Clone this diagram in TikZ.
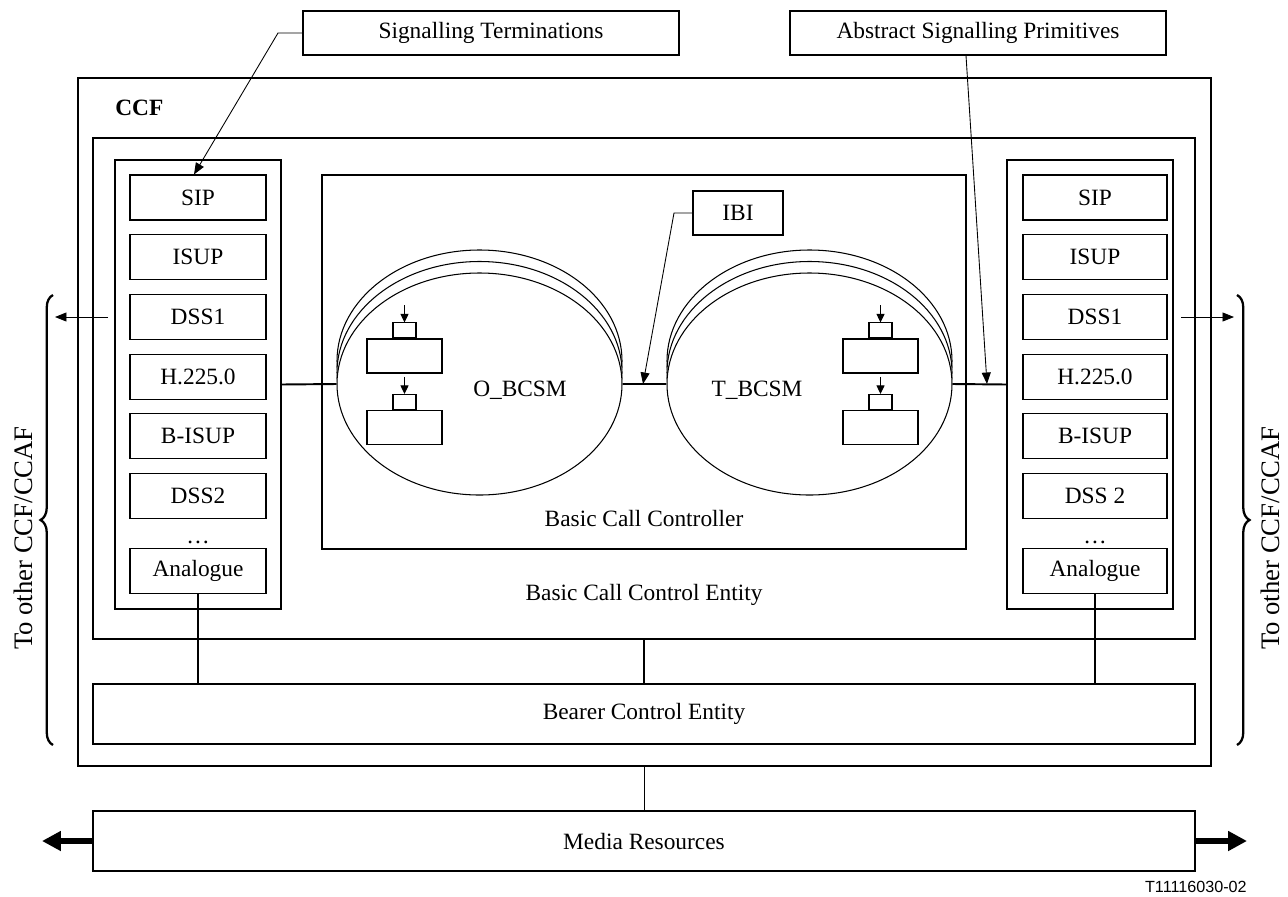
\documentclass[tikz,border=0pt]{standalone}
\usepackage{fontspec}
\setmainfont{Liberation Serif}
\newfontfamily\tagfont{Liberation Sans}
\usepackage{tikz}
\usetikzlibrary{shapes.geometric, arrows.meta, positioning, calc, decorations.pathreplacing}
\newcommand{\mainsize}{\fontsize{13.3}{15}\selectfont}
\newcommand{\sidesize}{\fontsize{15.2}{17}\selectfont}
\tikzset{
  boxframe/.style={rectangle, draw, inner sep=0pt, line width=0.6pt},
  dims/.style 2 args={minimum width=#1*0.02cm, minimum height=#2*0.02cm},
  protobox/.style={boxframe, dims={136}{45}, font=\mainsize},
  wideproto/.style={boxframe, dims={144}{45}, font=\mainsize},
  notebox/.style={boxframe, dims={376}{44}, font=\mainsize},
  statebox/.style={boxframe, dims={75}{34}},
  stubbox/.style={boxframe, dims={23}{15}},
  bcsm/.style={ellipse, draw, fill=white, inner sep=0pt, line width=0.6pt,
    dims={285}{222}},
  plaintext/.style={inner sep=0pt, font=\mainsize},
  link/.style={line width=1.1pt},
  pointer/.style={-{Triangle[length=2.3mm, width=1.8mm]}, line width=0.5pt},
  tinyarrow/.style={-{Triangle[length=1.7mm, width=1.6mm]}, line width=0.6pt},
  fatarrow/.style={-{Triangle[length=3.8mm, width=3.8mm]}, line width=3.6pt},
  curly/.style={decorate, decoration={brace, amplitude=0.25cm}, line width=1.3pt}
}

\begin{document}
\begin{tikzpicture}[x=0.02cm, y=-0.02cm, node distance=0pt]
  \useasboundingbox (0,0) rectangle (1288,896);

  \node[notebox] (sterm) at (491,33) {Signalling Terminations};
  \node[notebox] (asprim) at (978,33) {Abstract Signalling Primitives};

  \node[boxframe, dims={1133}{688}] (ccf) at (644.5,422) {};
  \node[plaintext, font=\mainsize\bfseries, anchor=west] (ccfname) at (115,108) {CCF};
  \node[boxframe, dims={1102}{501}] (bcce) at (644,388.5) {};
  \node[plaintext] (bccename) at (644,595) {Basic Call Control Entity};
  \node[boxframe, dims={644}{374}] (bcc) at (644,362) {};
  \node[plaintext] (bccname) at (644,518) {Basic Call Controller};

  % signalling stacks
  \node[boxframe, dims={166}{449}] (lstack) at (198,384.5) {};
  \node[boxframe, dims={166}{449}] (rstack) at (1090,384.5) {};
  \foreach \i/\proto/\protob in {0/SIP/SIP, 1/ISUP/ISUP, 2/DSS1/DSS1,
      3/H.225.0/H.225.0, 4/B-ISUP/B-ISUP, 5/DSS2/DSS 2}{
    \node[protobox] (l\i) at (198,197.5+59.7*\i) {\proto};
    \node[wideproto] (r\i) at (1095,197.5+59.7*\i) {\protob};
  }
  \node[plaintext, anchor=base] (ldots) at (198,543) {\dots};
  \node[plaintext, anchor=base] (rdots) at (1095,543) {\dots};
  \node[protobox] (lana) at (198,571) {Analogue};
  \node[wideproto] (rana) at (1095,571) {Analogue};

  % call state models
  \foreach \e/\cx in {o/479.5, t/809.5}{
    \node[bcsm] (\e back2) at (\cx,361) {};
    \node[bcsm] (\e back1) at (\cx,372.5) {};
  }
  \node[bcsm] (obcsm) at (479.5,384) {};
  \node[bcsm] (tbcsm) at (809.5,384) {};
  \node[plaintext] (oname) at (520,390) {O\_BCSM};
  \node[plaintext] (tname) at (757,390) {T\_BCSM};
  \foreach \n/\cx/\cy in {oa/404.5/356, ob/404.5/427.5, ta/880.5/356, tb/880.5/427.5}{
    \node[statebox] (\n) at (\cx,\cy) {};
    \node[stubbox, above=of \n] (\n stub) {};
    \coordinate (\n in) at ($(\n stub.north)+(0,-17)$);
    \draw[tinyarrow] (\n in) -- (\n stub.north);
  }

  \node[boxframe, dims={90}{44}, font=\mainsize] (ibi) at (738,213) {IBI};

  \draw[link] (lstack.east) -- (obcsm.west);
  \draw[link] (obcsm.east) -- (tbcsm.west);
  \draw[link] (tbcsm.east) -- (rstack.west);

  \node[boxframe, dims={1102}{60}, font=\mainsize] (bce) at (644,714) {Bearer Control Entity};
  \node[boxframe, dims={1102}{60}, font=\mainsize] (media) at (644,841) {Media Resources};
  \draw[link] (lana.south) -- (lana.south |- bce.north);
  \draw[link] (bcce.south) -- (bce.north);
  \draw[link] (rana.south) -- (rana.south |- bce.north);
  \draw[link] (ccf.south) -- (ccf.south |- media.north);

  \coordinate (mleft) at (42,841);
  \coordinate (mright) at (1247,841);
  \draw[fatarrow] (media.west) -- (mleft);
  \draw[fatarrow] (media.east) -- (mright);

  % leaders
  \coordinate (stbend) at (278,33);
  \draw[pointer] (sterm.west) -- (stbend) -- ($(l0.north)+(-4,0)$);
  \coordinate (aspend) at (987,384);
  \draw[pointer] ($(asprim.south)+(-12,0)$) -- (aspend);
  \coordinate (ibibend) at (674,213);
  \coordinate (ibiend) at (643,384);
  \draw[pointer] (ibi.west) -- (ibibend) -- (ibiend);

  % other CCF/CCAF
  \draw[curly] (53,745) -- (53,295);
  \draw[curly] (1237,295) -- (1237,745);
  \coordinate (lout) at (108,317);
  \coordinate (lend) at (55,317);
  \coordinate (rout) at (1181,317);
  \coordinate (rend) at (1234,317);
  \draw[pointer] (lout) -- (lend);
  \draw[pointer] (rout) -- (rend);
  \node[plaintext, font=\sidesize, rotate=90] (lside) at (23,538) {To other CCF/CCAF};
  \node[plaintext, font=\sidesize, rotate=90] (rside) at (1270,538) {To other CCF/CCAF};

  \node[plaintext, font=\tagfont\fontsize{9.2}{11}\selectfont, anchor=east] (tag) at (1247,887) {T11116030-02};
\end{tikzpicture}
\end{document}
